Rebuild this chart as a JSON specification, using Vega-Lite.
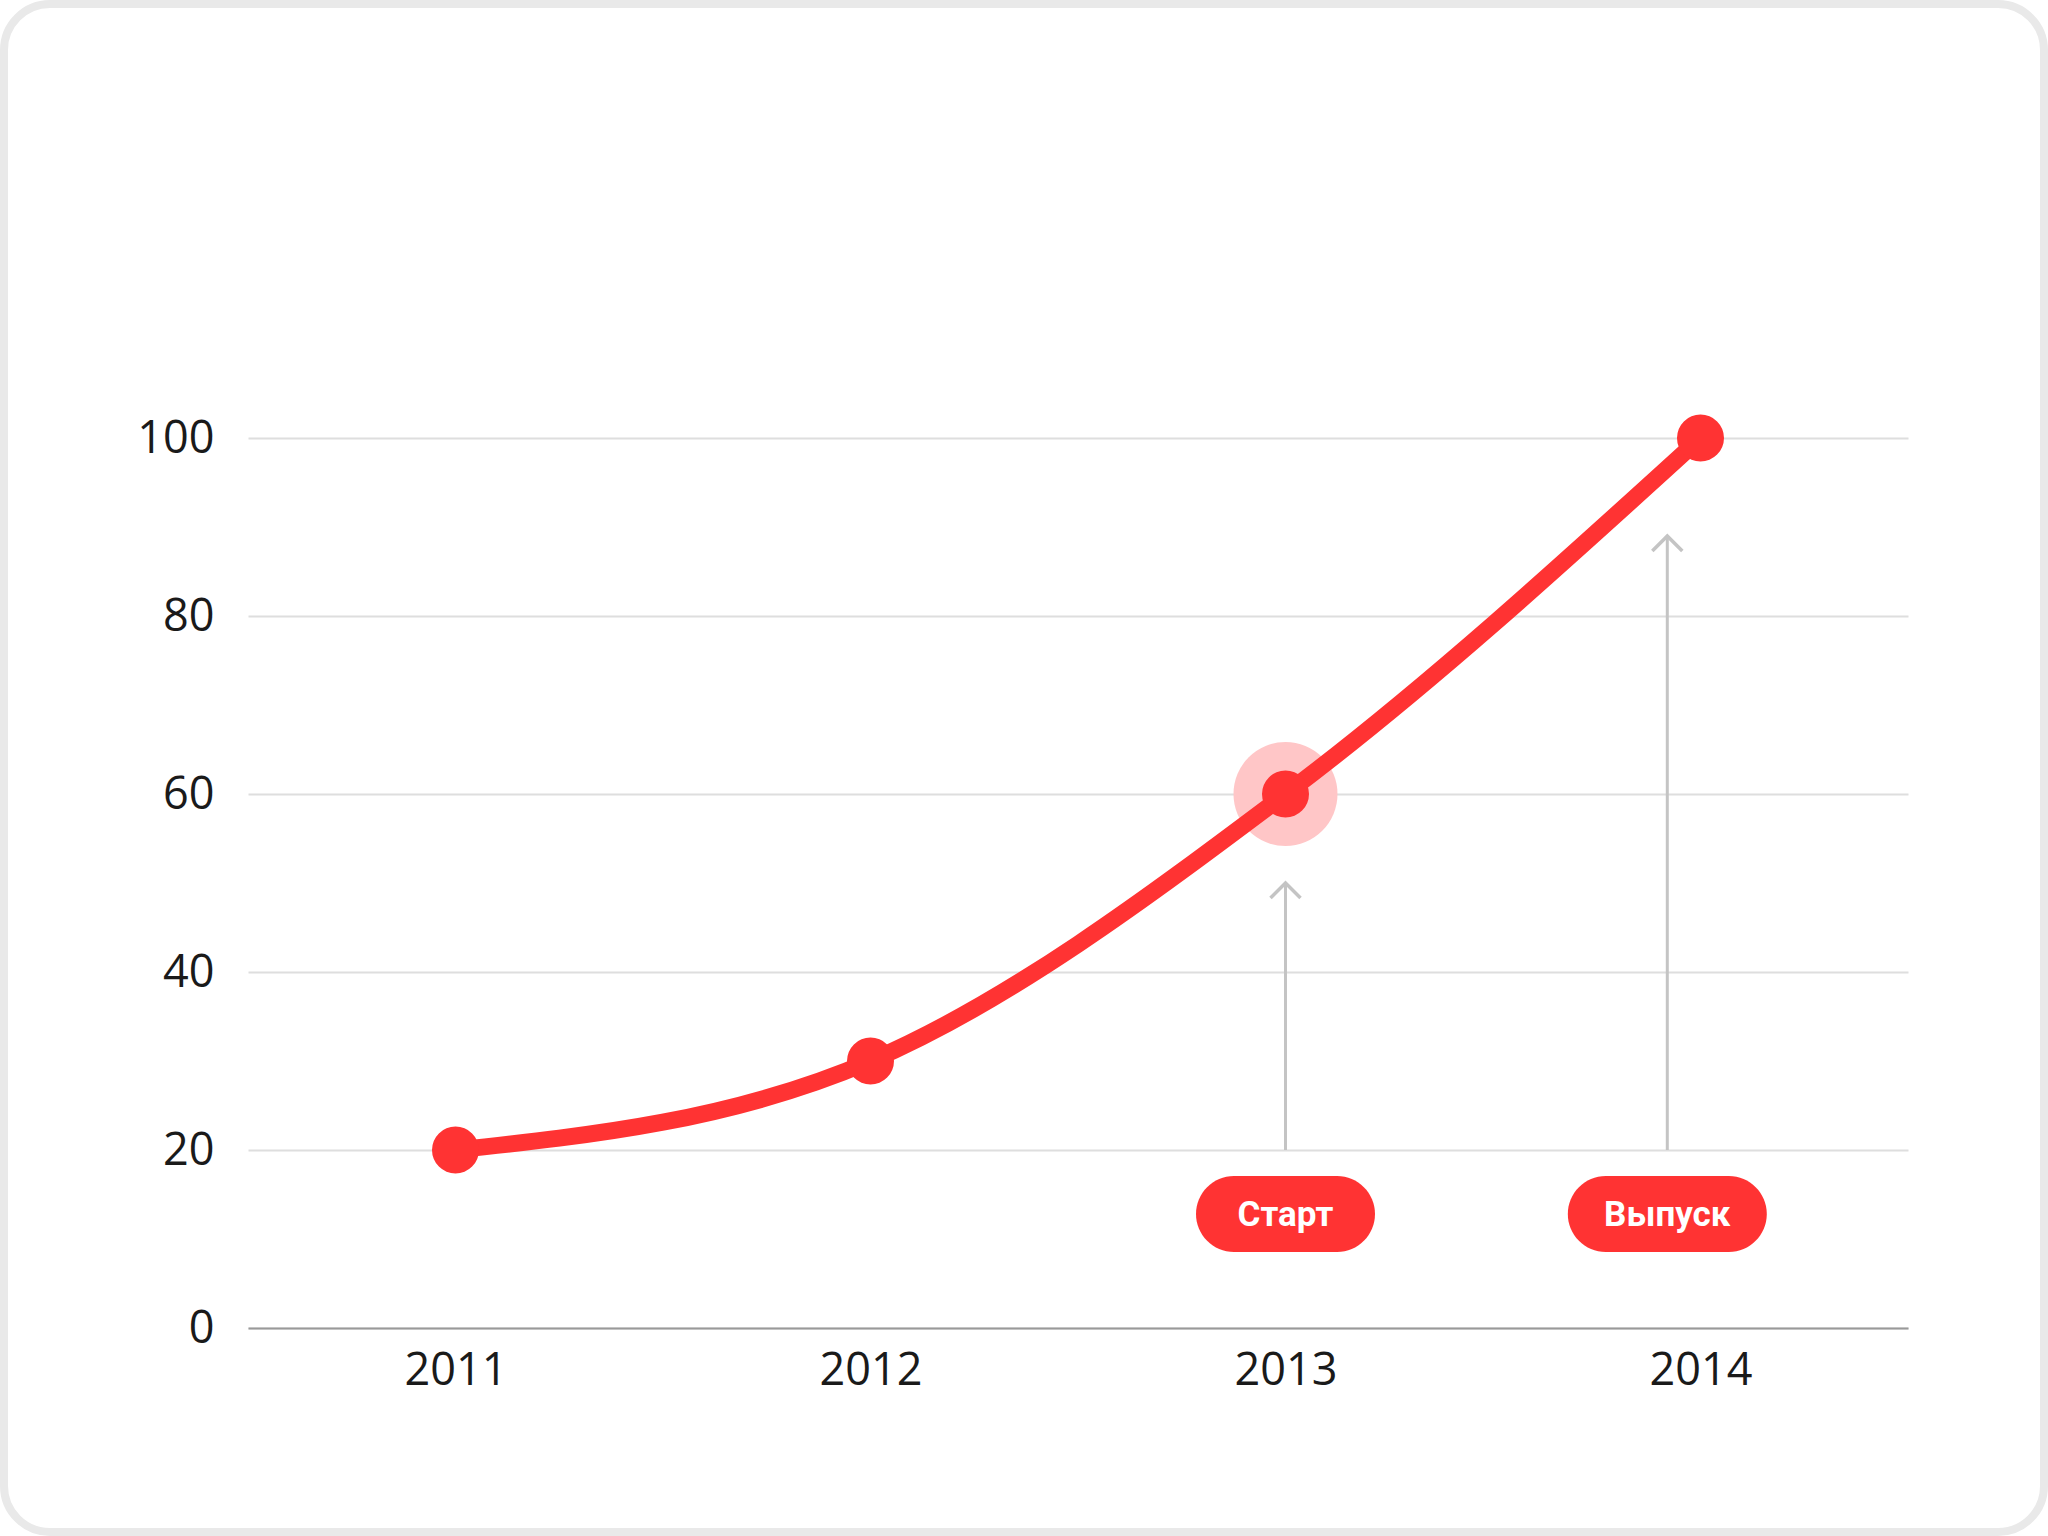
{
  "$schema": "https://vega.github.io/schema/vega-lite/v6.json",
  "width": 1660,
  "height": 890,
  "autosize": {"type": "none"},
  "padding": {"left": 248, "top": 438, "right": 140, "bottom": 208},
  "background": "white",
  "config": {
    "view": {"stroke": null},
    "font": "Open Sans",
    "axis": {"labelFont": "Open Sans", "labelFontSize": 45, "labelColor": "#1a1a1a", "title": null, "ticks": false}
  },
  "datasets": {
    "series": [
      {"year": 2011, "value": 20},
      {"year": 2012, "value": 30},
      {"year": 2013, "value": 60},
      {"year": 2014, "value": 100}
    ],
    "notes": [
      {"label": "Старт", "year": 2013, "from": 20, "to": 50},
      {"label": "Выпуск", "year": 2013.92, "from": 20, "to": 89}
    ]
  },
  "layer": [
    {
      "data": {"values": [{}]},
      "mark": {"type": "rect", "fill": null, "stroke": "#e9e9e9", "strokeWidth": 8, "cornerRadius": 46},
      "encoding": {
        "x": {"value": -244},
        "x2": {"value": 1796},
        "y": {"value": -434},
        "y2": {"value": 1094}
      }
    },
    {
      "data": {"name": "series"},
      "mark": {"type": "point", "filled": true, "shape": "circle", "size": 10816, "color": "#ffc6c7", "opacity": 1},
      "transform": [{"filter": "datum.year === 2013"}],
      "encoding": {
        "x": {"field": "year", "type": "quantitative", "scale": {"domain": [2010.5, 2014.5], "nice": false, "zero": false},
          "axis": {"values": [2011, 2012, 2013, 2014], "format": "d", "grid": false, "domain": true, "domainColor": "#999999", "domainWidth": 2, "labelPadding": 20}},
        "y": {"field": "value", "type": "quantitative", "scale": {"domain": [0, 100], "nice": false},
          "axis": {"values": [0, 20, 40, 60, 80, 100], "grid": true, "gridColor": "#dedede", "gridWidth": 2, "domain": false, "labelPadding": 34}}
      }
    },
    {
      "data": {"name": "notes"},
      "mark": {"type": "rule", "color": "#c4c4c4", "strokeWidth": 3},
      "encoding": {
        "x": {"field": "year", "type": "quantitative"},
        "y": {"field": "from", "type": "quantitative"},
        "y2": {"field": "to"}
      }
    },
    {
      "data": {"name": "notes"},
      "mark": {"type": "point", "shape": "M-1,1L0,0L1,1", "filled": false, "stroke": "#c4c4c4", "strokeWidth": 3.5, "size": 900, "opacity": 1},
      "encoding": {
        "x": {"field": "year", "type": "quantitative"},
        "y": {"field": "to", "type": "quantitative"}
      }
    },
    {
      "data": {"name": "series"},
      "mark": {"type": "line", "interpolate": "monotone", "color": "#ff3333", "strokeWidth": 17},
      "encoding": {
        "x": {"field": "year", "type": "quantitative"},
        "y": {"field": "value", "type": "quantitative"}
      }
    },
    {
      "data": {"name": "series"},
      "mark": {"type": "point", "filled": true, "shape": "circle", "size": 2209, "color": "#ff3333", "opacity": 1},
      "encoding": {
        "x": {"field": "year", "type": "quantitative"},
        "y": {"field": "value", "type": "quantitative"}
      }
    },
    {
      "data": {"name": "notes"},
      "mark": {"type": "point", "filled": true, "color": "#ff3333", "size": 5776, "opacity": 1},
      "encoding": {
        "x": {"field": "year", "type": "quantitative"},
        "y": {"datum": 12.8, "type": "quantitative"},
        "shape": {"field": "label", "type": "nominal", "legend": null,
          "scale": {"domain": ["Старт", "Выпуск"], "range": [
            "M-1.355,-1L1.355,-1A1,1 0 0 1 1.355,1L-1.355,1A1,1 0 0 1 -1.355,-1Z",
            "M-1.618,-1L1.618,-1A1,1 0 0 1 1.618,1L-1.618,1A1,1 0 0 1 -1.618,-1Z"
          ]}}
      }
    },
    {
      "data": {"name": "notes"},
      "mark": {"type": "text", "font": "Roboto", "fontWeight": "bold", "fontSize": 35, "color": "white", "align": "center", "baseline": "middle", "dy": 1},
      "encoding": {
        "x": {"field": "year", "type": "quantitative"},
        "y": {"datum": 12.8, "type": "quantitative"},
        "text": {"field": "label"}
      }
    }
  ]
}
